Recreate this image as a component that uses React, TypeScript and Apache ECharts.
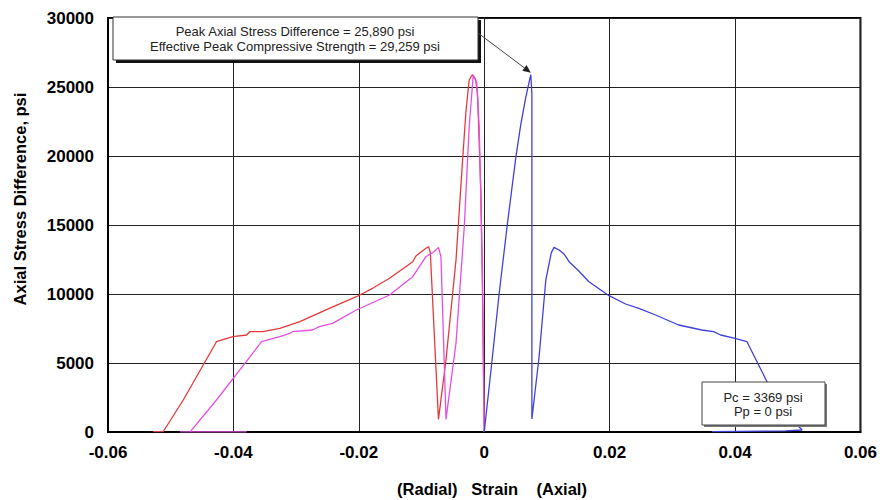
import React, { useEffect, useRef } from "react";
import * as echarts from "echarts";

// ---- data (strain, axial stress difference psi) ----
const redStrain = [-0.0528, -0.0512, -0.048, -0.0427, -0.0401, -0.0379, -0.0374, -0.0353, -0.0326, -0.0294, -0.0247, -0.0204, -0.0178, -0.0151, -0.0114, -0.0109, -0.0093, -0.00886, -0.0086, -0.0073, -0.0061, -0.0045, -0.00345, -0.0029, -0.0024, -0.0019, -0.0014, -0.00107, -0.00053, -0.00027, 0];
const redStress = [20, 20, 2318, 6543, 6905, 7029, 7268, 7268, 7514, 7993, 8960, 9804, 10413, 11137, 12340, 12753, 13311, 13427, 13000, 920, 5217, 12463, 19710, 23332, 25507, 25890, 25600, 24564, 17318, 10050, 0];

const magStrain = [-0.0379, -0.0485, -0.0469, -0.0427, -0.0355, -0.0326, -0.031, -0.0306, -0.0274, -0.0263, -0.0242, -0.0204, -0.0151, -0.0114, -0.0093, -0.008, -0.0073, -0.0069, -0.0061, -0.0045, -0.00318, -0.0024, -0.00175, -0.0012, -0.0008, -0.0003, 0];
const magStress = [15, 15, 15, 2318, 6543, 6905, 7152, 7268, 7391, 7630, 7876, 8840, 9927, 11253, 12703, 13065, 13380, 12700, 920, 6449, 14876, 22122, 25868, 25300, 22122, 12000, 0];

const blueStrain = [0, 0.0012, 0.00239, 0.0037, 0.00504, 0.0058, 0.0066, 0.0072, 0.00743, 0.0076, 0.0076, 0.00875, 0.00982, 0.0107, 0.01114, 0.01194, 0.01273, 0.01353, 0.015, 0.0167, 0.0199, 0.02255, 0.02467, 0.02733, 0.031, 0.0347, 0.0366, 0.0377, 0.04, 0.0419, 0.0451, 0.048, 0.0507, 0.048, 0.0363];
const blueStress = [0, 5000, 10070, 15100, 19900, 22200, 24200, 25450, 25890, 24500, 942, 5456, 11014, 13000, 13380, 13188, 12898, 12340, 11700, 10890, 9877, 9275, 8960, 8478, 7753, 7391, 7268, 7029, 6789, 6543, 3645, 1400, 145, 80, 22];

const peakPoint = [0.00743, 25890];
const noteLines = ["Peak Axial Stress Difference = 25,890 psi", "Effective Peak Compressive Strength = 29,259 psi"];
const condLines = ["Pc = 3369 psi", "Pp = 0 psi"];
const xTitle = "(Radial)   Strain    (Axial)";
const yTitle = "Axial Stress Difference, psi";

const zip = (xs: number[], ys: number[]) => xs.map((x, i) => [x, ys[i]]);

const FONT = "Liberation Sans, Arial, sans-serif";

export default function App() {
  const ref = useRef<HTMLDivElement>(null);
  useEffect(() => {
    if (!ref.current) return;
    const chart = echarts.init(ref.current, null, { renderer: "svg" });
    const lineSeries = (name: string, data: number[][], color: string) => ({
      name,
      type: "line",
      data,
      showSymbol: false,
      symbol: "none",
      smooth: false,
      lineStyle: { color, width: 1.3 },
      z: 3,
    });
    chart.setOption({
      animation: false,
      backgroundColor: "#ffffff",
      textStyle: { fontFamily: FONT },
      grid: {
        left: 108,
        right: 18,
        top: 18,
        bottom: 68,
        show: true,
        borderColor: "#000",
        borderWidth: 2,
        backgroundColor: "transparent",
      },
      xAxis: {
        type: "value",
        min: -0.06,
        max: 0.06,
        interval: 0.02,
        axisLine: { show: true, onZero: false, lineStyle: { color: "#000", width: 2 } },
        axisTick: { show: false },
        axisLabel: {
          fontSize: 17,
          fontWeight: "bold",
          color: "#000",
          margin: 12,
          fontFamily: FONT,
          formatter: (v: number) => {
            const r = Math.round(v * 100) / 100;
            return r === 0 ? "0" : r.toFixed(2);
          },
        },
        splitLine: { show: true, lineStyle: { color: "#222", width: 1 } },
      },
      yAxis: {
        type: "value",
        min: 0,
        max: 30000,
        interval: 5000,
        axisLine: { show: true, onZero: false, lineStyle: { color: "#000", width: 2 } },
        axisTick: { show: false },
        axisLabel: {
          fontSize: 17,
          fontWeight: "bold",
          color: "#000",
          margin: 14,
          fontFamily: FONT,
          formatter: (v: number) => String(Math.round(v)),
        },
        splitLine: { show: true, lineStyle: { color: "#222", width: 1 } },
      },
      series: [
        lineSeries("red", zip(redStrain, redStress), "#e4393c"),
        lineSeries("magenta", zip(magStrain, magStress), "#e44ee4"),
        lineSeries("blue", zip(blueStrain, blueStress), "#4040dc"),
      ],
    });

    const p = chart.convertToPixel({ gridIndex: 0 }, peakPoint) as number[];
    const sx = 478;
    const sy = 33;
    const ex = p[0];
    const ey = p[1] - 2;
    const ang = Math.atan2(ey - sy, ex - sx);
    const ah = 8;
    const aw = 3.5;
    const bx = ex - ah * Math.cos(ang);
    const by = ey - ah * Math.sin(ang);
    const arrowPts = [
      [ex, ey],
      [bx + aw * Math.sin(ang), by - aw * Math.cos(ang)],
      [bx - aw * Math.sin(ang), by + aw * Math.cos(ang)],
    ];

    chart.setOption({
      graphic: [
        // axis titles
        {
          type: "text",
          x: 492,
          y: 489,
          style: { text: xTitle, font: `bold 16.5px ${FONT}`, fill: "#000", align: "center", verticalAlign: "middle" },
        },
        {
          type: "text",
          x: 20,
          y: 199,
          rotation: Math.PI / 2,
          style: { text: yTitle, font: `bold 16.5px ${FONT}`, fill: "#000", align: "center", verticalAlign: "middle" },
        },
        // peak note box
        { type: "rect", shape: { x: 116, y: 20, width: 365, height: 43 }, style: { fill: "#111" }, z: 10 },
        { type: "rect", shape: { x: 113, y: 17, width: 365, height: 43 }, style: { fill: "#fff", stroke: "#333", lineWidth: 1 }, z: 11 },
        {
          type: "text",
          x: 295,
          y: 31.5,
          style: { text: noteLines[0], font: `13px ${FONT}`, fill: "#222", align: "center", verticalAlign: "middle" },
          z: 12,
        },
        {
          type: "text",
          x: 295,
          y: 46,
          style: { text: noteLines[1], font: `13px ${FONT}`, fill: "#222", align: "center", verticalAlign: "middle" },
          z: 12,
        },
        { type: "line", shape: { x1: sx, y1: sy, x2: bx, y2: by }, style: { stroke: "#444", lineWidth: 1 }, z: 12 },
        { type: "polygon", shape: { points: arrowPts }, style: { fill: "#222" }, z: 12 },
        // conditions box
        { type: "rect", shape: { x: 704, y: 384, width: 123, height: 43 }, style: { fill: "#777" }, z: 10 },
        { type: "rect", shape: { x: 702, y: 382, width: 123, height: 43 }, style: { fill: "#fff", stroke: "#444", lineWidth: 1 }, z: 11 },
        {
          type: "text",
          x: 763,
          y: 397,
          style: { text: condLines[0], font: `13px ${FONT}`, fill: "#222", align: "center", verticalAlign: "middle" },
          z: 12,
        },
        {
          type: "text",
          x: 763,
          y: 411,
          style: { text: condLines[1], font: `13px ${FONT}`, fill: "#222", align: "center", verticalAlign: "middle" },
          z: 12,
        },
      ],
    });

    return () => chart.dispose();
  }, []);
  return (
    <div
      ref={ref}
      style={{ position: "fixed", left: 0, top: 0, width: 880, height: 500, background: "#fff" }}
    />
  );
}
